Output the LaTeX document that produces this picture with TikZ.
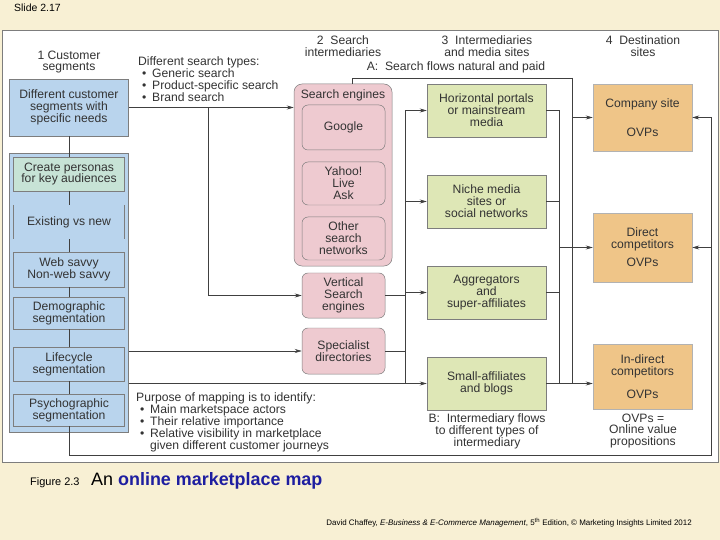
\documentclass[tikz,border=0pt]{standalone}
\usepackage{fontspec}
\setmainfont{Liberation Sans}
\usetikzlibrary{positioning,arrows.meta}

\definecolor{slidebg}{RGB}{248,240,212}
\definecolor{segblue}{RGB}{185,212,237}
\definecolor{persgreen}{RGB}{199,227,214}
\definecolor{srchpink}{RGB}{238,202,208}
\definecolor{medgreen}{RGB}{222,231,182}
\definecolor{destorange}{RGB}{239,197,136}
\definecolor{titleblue}{RGB}{30,30,160}
\definecolor{edgegrey}{RGB}{125,125,125}

\newcommand{\bitem}{\hspace*{4bp}\makebox[10bp][l]{\textbullet}}

\begin{document}
\begin{tikzpicture}[
  x=1bp, y=-1bp,
  font=\fontsize{12.2}{12}\selectfont,
  text=black!80,
  box/.style={rectangle, draw=edgegrey, line width=0.5pt, inner sep=0pt, align=center},
  segbox/.style={box, fill=segblue, minimum width=111bp, minimum height=34bp},
  srchbox/.style={box, fill=srchpink, rounded corners=6bp, minimum width=83bp, minimum height=45bp},
  mediabox/.style={box, fill=medgreen, minimum width=119bp, minimum height=53bp},
  destbox/.style={box, draw=black!30, fill=destorange, minimum width=99bp},
  wire/.style={draw=black!75, line width=0.6pt},
  arr/.style={wire, -{Stealth[length=7bp, width=4bp]}},
  txt/.style={inner sep=0pt, align=center}
]
\useasboundingbox (0,0) rectangle (720,540);

% slide and figure panel
\fill[slidebg] (0,0) rectangle (720,540);
\draw[edgegrey, fill=white, line width=0.6pt] (2,30) rectangle (718,462);
\node[anchor=west, inner sep=0pt, font=\fontsize{10.5}{10.5}\selectfont, text=black] (slide) at (14,8) {Slide 2.17};

% column headings
\node[txt] (h1) at (69,62) {1 Customer\\segments};
\node[txt] (h2) at (343,46.5) {2 \ Search\\intermediaries};
\node[txt] (h3) at (487,46.5) {3 \ Intermediaries\\and media sites};
\node[txt] (h4) at (643,46.5) {4 \ Destination\\sites};
\node[txt] (hA) at (456,67) {A: \ Search flows natural and paid};

% customer segments
\node[segbox, minimum width=119bp, minimum height=57bp] (seg) at (69,107.5) {Different customer\\segments with\\specific needs};
\node[box, fill=segblue, minimum width=119bp, minimum height=279bp] (col) at (69,292.5) {};
\node[segbox, fill=persgreen] (persona) at (69,174) {Create personas\\for key audiences};
\node[txt, minimum width=111bp, minimum height=34bp] (exist) at (69,222) {Existing vs new};
\node[segbox, minimum height=35bp] (web) at (69,269.5) {Web savvy\\Non-web savvy};
\node[segbox, minimum height=32bp] (demo) at (69,313) {Demographic\\segmentation};
\node[segbox] (life) at (69,364) {Lifecycle\\segmentation};
\node[segbox, minimum height=32bp] (psycho) at (69,410) {Psychographic\\segmentation};
\draw[edgegrey, line width=0.5pt] (exist.north west) -- (exist.south west)
  (exist.north east) -- (exist.south east);

% search intermediaries
\node[box, fill=srchpink, rounded corners=8bp, minimum width=98bp, minimum height=182bp] (search) at (343,175) {};
\node[txt] (setitle) at (343,95) {Search engines};
\node[srchbox] (google) at (343.5,127.5) {Google};
\node[srchbox, minimum height=43bp] (yahoo) at (343.5,183.5) {Yahoo!\\Live\\Ask};
\node[srchbox, minimum height=43bp] (other) at (343.5,238.5) {Other\\search\\networks};
\node[srchbox] (vert) at (343.5,295.5) {Vertical\\Search\\engines};
\node[srchbox, minimum height=46bp] (spec) at (343.5,351) {Specialist\\directories};

% intermediaries and media sites
\node[mediabox] (horiz) at (486.5,110.5) {Horizontal portals\\or mainstream\\media};
\node[mediabox] (niche) at (486.5,201.5) {Niche media\\sites or\\social networks};
\node[mediabox] (aggr) at (486.5,292.5) {Aggregators\\and\\super-affiliates};
\node[mediabox] (small) at (486.5,383.5) {Small-affiliates\\and blogs};

% destination sites
\node[destbox, minimum height=67bp] (company) at (642.5,117.5) {Company site\\[17bp]OVPs};
\node[destbox, minimum height=69bp] (direct) at (642.5,247.5) {Direct\\competitors\\[6bp]OVPs};
\node[destbox, minimum height=65bp] (indirect) at (642.5,376.5) {In-direct\\competitors\\[11bp]OVPs};

% notes
\node[txt, anchor=north west, align=left] (types) at (138,56.5)
  {Different search types:\\\bitem Generic search\\\bitem Product-specific search\\\bitem Brand search};
\node[txt, anchor=north west, align=left] (purpose) at (136,392.5)
  {Purpose of mapping is to identify:\\\bitem Main marketspace actors\\\bitem Their relative importance\\
   \bitem Relative visibility in marketplace\\\hspace*{14bp}given different customer journeys};
\node[txt] (noteB) at (487,431) {B: \ Intermediary flows\\to different types of\\intermediary};
\node[txt] (noteO) at (643,431) {OVPs =\\Online value\\propositions};

% bus positions
\coordinate (split) at (208,107.5);
\coordinate (b2) at (405,0);
\coordinate (b3) at (559,0);
\coordinate (a1) at (572,78);
\coordinate (rb) at (711,455);

% flows from customers
\draw[wire] (seg) -- (persona) -- (exist) -- (web) -- (demo) -- (life) -- (psycho);
\draw[arr] (seg) -- (seg -| search.west);
\draw[arr] (split) |- (vert);
\draw[arr] (col.east |- spec.west) -- (spec);
\draw[arr] (col.east |- small.west) -- (small);
\draw[arr] (psycho) |- (rb) |- (company);
\draw[arr] (rb) |- (direct);

% A: search flows
\draw[wire] ([xshift=9bp]search.north) |- (a1);
\draw[arr] (a1) |- (company);
\draw[wire] (a1) -- (a1 |- small.east);

% B: intermediary flows
\draw[wire] (vert) -- (vert -| b2);
\draw[wire] (spec) -- (spec -| b2);
\draw[wire] (b2 |- horiz.west) -- (b2 |- small.west);
\foreach \n in {horiz,niche,aggr}
  \draw[arr] (b2 |- \n.west) -- (\n);
\foreach \n in {horiz,niche,aggr,small}
  \draw[wire] (\n) -- (\n -| b3);
\draw[wire] (b3 |- horiz.east) -- (b3 |- small.east);
\draw[arr] (b3 |- direct.west) -- (direct);
\draw[arr] (small) -- (small -| indirect.west);

% caption and credit
\node[anchor=base west, inner sep=0pt, font=\fontsize{11}{11}\selectfont, text=black] (figno) at (30,485) {Figure 2.3};
\node[anchor=base west, inner sep=0pt, font=\fontsize{18}{18}\selectfont, text=black] (title) at (91,485)
  {An \textcolor{titleblue}{\bfseries online marketplace map}};
\node[anchor=base east, inner sep=0pt, font=\fontsize{8}{8}\selectfont, text=black] (credit) at (692,525)
  {David Chaffey, \textit{E-Business \& E-Commerce Management}, 5\textsuperscript{th} Edition, \textcopyright\ Marketing Insights Limited 2012};
\end{tikzpicture}
\end{document}
